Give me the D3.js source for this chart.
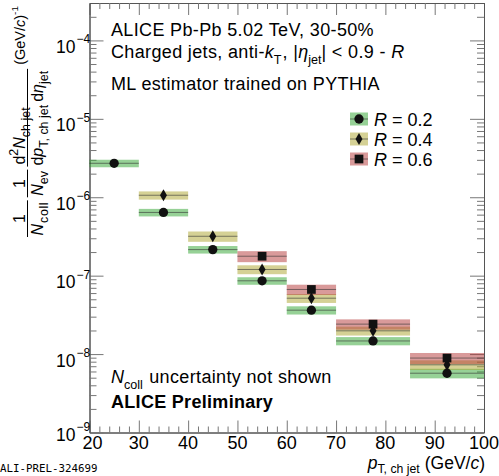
<!DOCTYPE html>
<html>
<head>
<meta charset="utf-8">
<script src="https://cdn.jsdelivr.net/npm/d3@7"></script>
<style>
body { margin: 0; background: #fff; }
svg { display: block; }
text { font-family: "Liberation Sans", Arial, sans-serif; white-space: pre; fill: #000; }
</style>
</head>
<body>
<svg id="chart" width="499" height="476"></svg>
<script>
// bins in pT (GeV/c)
var binLo = [20, 30, 40, 50, 60, 70, 85];
var binHi = [30, 40, 50, 60, 70, 85, 100];

// spectra per R, null = not measured
var valR02 = [2.71e-6, 6.4e-7, 2.15e-7, 8.6e-8, 3.63e-8, 1.47e-8, 5.7e-9];
var valR04 = [null, 1.06e-6, 3.18e-7, 1.2e-7, 5.16e-8, 1.98e-8, 7.3e-9];
var valR06 = [null, null, null, 1.77e-7, 6.67e-8, 2.41e-8, 8.9e-9];

// relative systematic (boxes) and statistical (bars) uncertainties
var sysR02 = [0.11, 0.11, 0.11, 0.11, 0.12, 0.12, 0.14];
var sysR04 = [null, 0.12, 0.15, 0.13, 0.13, 0.13, 0.14];
var sysR06 = [null, null, null, 0.16, 0.15, 0.15, 0.16];
var statR02 = [0.01, 0.01, 0.02, 0.02, 0.03, 0.04, 0.06];
var statR04 = [null, 0.02, 0.03, 0.04, 0.05, 0.06, 0.08];
var statR06 = [null, null, null, 0.05, 0.06, 0.08, 0.1];

var radii = ["0.2", "0.4", "0.6"];
var xTicks = [20, 30, 40, 50, 60, 70, 80, 90, 100];
var yDecades = [-9, -8, -7, -6, -5, -4];

var series = [
  {R: radii[0], val: valR02, sys: sysR02, stat: statR02, fill: "#2ea32e", sym: d3.symbolCircle, size: 68},
  {R: radii[1], val: valR04, sys: sysR04, stat: statR04, fill: "#aba32b", sym: d3.symbolDiamond, size: 42},
  {R: radii[2], val: valR06, sys: sysR06, stat: statR06, fill: "#b33535", sym: d3.symbolSquare, size: 76}
];

var margin = {top: 3, right: 15, bottom: 43.5, left: 89.5},
width = 499 - margin.left - margin.right,
height = 476 - margin.top - margin.bottom;

var svg = d3.select("#chart");
var g = svg.append("g")
.attr("transform", "translate(" + margin.left + "," + margin.top + ")");

var x = d3.scaleLinear().domain([20, 100]).range([0, width]);
var y = d3.scaleLog().domain([1e-9, 3e-4]).range([height, 0]);

var majorY = yDecades.map(function(e) { return Math.pow(10, e); });
var minorY = [];
yDecades.forEach(function(e) {
  for (var k = 2; k <= 9; k++) {
    var v = k * Math.pow(10, e);
    if (v < 3e-4) minorY.push(v);
  }
});
var minorX = d3.range(20, 101, 2).filter(function(v) { return v % 10 !== 0; });

function styleAxis(sel) {
  sel.selectAll(".domain").attr("stroke", "#555").attr("stroke-width", 1);
  sel.selectAll(".tick line").attr("stroke", "#777").attr("stroke-width", 1);
  sel.selectAll(".tick text").remove();
}

// frame + ticks, all pointing inward
g.append("g").attr("transform", "translate(0," + height + ")")
.call(d3.axisBottom(x).tickValues(xTicks).tickSize(-12).tickSizeOuter(0).tickFormat(""))
.call(styleAxis);
g.append("g").attr("transform", "translate(0," + height + ")")
.call(d3.axisBottom(x).tickValues(minorX).tickSize(-6).tickSizeOuter(0).tickFormat(""))
.call(styleAxis);
g.append("g")
.call(d3.axisTop(x).tickValues(xTicks).tickSize(-12).tickSizeOuter(0).tickFormat(""))
.call(styleAxis);
g.append("g")
.call(d3.axisTop(x).tickValues(minorX).tickSize(-6).tickSizeOuter(0).tickFormat(""))
.call(styleAxis);
g.append("g")
.call(d3.axisLeft(y).tickValues(majorY).tickSize(-14).tickSizeOuter(0).tickFormat(""))
.call(styleAxis);
g.append("g")
.call(d3.axisLeft(y).tickValues(minorY).tickSize(-7).tickSizeOuter(0).tickFormat(""))
.call(styleAxis);
g.append("g").attr("transform", "translate(" + width + ",0)")
.call(d3.axisRight(y).tickValues(majorY).tickSize(-14).tickSizeOuter(0).tickFormat(""))
.call(styleAxis);
g.append("g").attr("transform", "translate(" + width + ",0)")
.call(d3.axisRight(y).tickValues(minorY).tickSize(-7).tickSizeOuter(0).tickFormat(""))
.call(styleAxis);

// x tick labels
g.selectAll(".xlab").data(xTicks).enter().append("text")
.attr("class", "xlab")
.attr("x", function(d) { return x(d) + (d === 20 ? 3 : 0); })
.attr("y", height + 16.5)
.attr("text-anchor", "middle")
.attr("font-size", 18)
.text(function(d) { return d; });

// y tick labels 10^n
yDecades.forEach(function(e) {
  var yy = y(Math.pow(10, e));
  g.append("text").attr("x", -14).attr("y", yy + (e === -9 ? 8 : 12.5))
  .attr("text-anchor", "end").attr("font-size", 17.5).text("10");
  g.append("text").attr("x", -13).attr("y", yy + (e === -9 ? -2 : 3))
  .attr("font-size", 12).text("\u2212" + (-e));
});

// text runs with sub/superscripts
function putRuns(sel, x0, y0, parts, size, sub) {
  var xx = x0, k = sub || 0.7;
  parts.forEach(function(p) {
    var fs = p.fs || ((p.sub || p.sup) ? size * k : size);
    var dy = p.dy !== undefined ? p.dy : (p.sub ? size * 0.33 : (p.sup ? -size * 0.42 : 0));
    var t = sel.append("text").attr("x", xx).attr("y", y0 + dy)
    .attr("font-size", fs).text(p.t);
    if (p.i) t.attr("font-style", "italic");
    if (p.b) t.attr("font-weight", "bold");
    if (p.ls) t.attr("letter-spacing", p.ls);
    xx += t.node().getComputedTextLength() + (p.pad || 0);
  });
  return xx - x0;
}

function frac(sel, x0, lineY, num, den, size, alignStart) {
  var gn = sel.append("g"), gd = sel.append("g");
  var wn = putRuns(gn, 0, lineY - 3, num, size, 0.78);
  var wd = putRuns(gd, 0, lineY + size * 0.95, den, size, 0.78);
  var w = Math.max(wn, wd) + 3;
  gn.attr("transform", "translate(" + (x0 + (alignStart ? 2 : (w - wn) / 2)) + ",0)");
  gd.attr("transform", "translate(" + (x0 + (alignStart ? 1 : (w - wd) / 2)) + ",0)");
  sel.append("line").attr("x1", x0).attr("x2", x0 + w)
  .attr("y1", lineY).attr("y2", lineY).attr("stroke", "#000").attr("stroke-width", 1);
  return w;
}

// y-axis title, rotated
var yt = svg.append("g").attr("transform", "rotate(-90)");
var pos = -237, fs = 16;
pos += frac(yt, pos, 27.5, [{t: "1"}], [{t: "N", i: true, pad: 1}, {t: "coll", sub: true, ls: 0.6}], fs) + 3;
pos += frac(yt, pos, 27.5, [{t: "1"}], [{t: "N", i: true}, {t: "ev", sub: true}], fs) + 3;
pos += frac(yt, pos, 27.5,
  [{t: "d"}, {t: "2", sup: true}, {t: "N", i: true}, {t: "ch jet", sub: true}],
  [{t: "d"}, {t: "p", i: true}, {t: "T, ch jet", sub: true, pad: 3}, {t: "d"}, {t: "\u03b7", i: true}, {t: "jet", sub: true}], fs, true) + 4;
putRuns(yt, pos, 24.5, [{t: "(GeV/", fs: 14.5}, {t: "c", i: true, fs: 14.5}, {t: ")", fs: 14.5}, {t: "-1", sup: true}], fs, 0.62);

// x-axis title, right aligned to the frame
var xt = svg.append("g");
var xtw = putRuns(xt, 0, 468.5, [{t: "p", i: true}, {t: "T, ch jet", sub: true, dy: 4.5, pad: 5}, {t: "(GeV/"}, {t: "c", i: true}, {t: ")"}], 17.5);
xt.attr("transform", "translate(" + (margin.left + width - xtw + 1) + ",0)");

// uncertainty boxes
series.forEach(function(s) {
  var idx = d3.range(binLo.length).filter(function(i) { return s.val[i] !== null; });
  g.selectAll(null).data(idx).enter().append("rect")
  .attr("x", function(i) { return x(binLo[i]); })
  .attr("width", function(i) { return x(binHi[i]) - x(binLo[i]); })
  .attr("y", function(i) { return y(s.val[i] * (1 + s.sys[i])); })
  .attr("height", function(i) { return y(s.val[i] * (1 - s.sys[i])) - y(s.val[i] * (1 + s.sys[i])); })
  .attr("fill", s.fill).attr("fill-opacity", 0.5);
});

// bin-width lines and statistical bars
series.forEach(function(s) {
  var idx = d3.range(binLo.length).filter(function(i) { return s.val[i] !== null; });
  g.selectAll(null).data(idx).enter().append("line")
  .attr("x1", function(i) { return x(binLo[i]); })
  .attr("x2", function(i) { return x(binHi[i]); })
  .attr("y1", function(i) { return y(s.val[i]); })
  .attr("y2", function(i) { return y(s.val[i]); })
  .attr("stroke", "#333").attr("stroke-opacity", 0.6).attr("stroke-width", 1);
  g.selectAll(null).data(idx).enter().append("line")
  .attr("x1", function(i) { return x((binLo[i] + binHi[i]) / 2); })
  .attr("x2", function(i) { return x((binLo[i] + binHi[i]) / 2); })
  .attr("y1", function(i) { return y(s.val[i] * (1 + s.stat[i])); })
  .attr("y2", function(i) { return y(s.val[i] * (1 - s.stat[i])); })
  .attr("stroke", "#000").attr("stroke-width", 1.5);
});

// markers
series.forEach(function(s) {
  var idx = d3.range(binLo.length).filter(function(i) { return s.val[i] !== null; });
  g.selectAll(null).data(idx).enter().append("path")
  .attr("d", d3.symbol().type(s.sym).size(s.size))
  .attr("transform", function(i) {
    return "translate(" + x((binLo[i] + binHi[i]) / 2) + "," + y(s.val[i]) + ")";
  })
  .attr("fill", "#111");
});

// legend
var leg = svg.append("g").attr("transform", "translate(350,119)");
series.forEach(function(s, k) {
  var row = leg.append("g").attr("transform", "translate(0," + (k * 20) + ")");
  row.append("rect").attr("x", 0).attr("y", -6.5).attr("width", 18).attr("height", 13)
  .attr("fill", s.fill).attr("fill-opacity", 0.5);
  row.append("line").attr("x1", 0).attr("x2", 18).attr("y1", 0).attr("y2", 0)
  .attr("stroke", "#333").attr("stroke-opacity", 0.6);
  row.append("path").attr("d", d3.symbol().type(s.sym).size(s.size))
  .attr("transform", "translate(9,0)").attr("fill", "#111");
  putRuns(row, 24, 6.5, [{t: "R", i: true}, {t: " = " + s.R}], 18);
});

// annotations
var ls = 0.35;
putRuns(svg, 111, 36, [{t: "ALICE Pb-Pb 5.02 TeV, 30-50%", ls: ls}], 18);
putRuns(svg, 111, 58, [{t: "Charged jets, anti-", ls: ls}, {t: "k", i: true}, {t: "T", sub: true, pad: 1},
  {t: ", |", ls: ls}, {t: "\u03b7", i: true}, {t: "jet", sub: true}, {t: "| < 0.9 - ", ls: ls}, {t: "R", i: true}], 18);
putRuns(svg, 111, 90, [{t: "ML estimator trained on PYTHIA", ls: ls}], 18);
putRuns(svg, 111, 383, [{t: "N", i: true}, {t: "coll", sub: true, pad: 1}, {t: " uncertainty not shown", ls: ls}], 18);
putRuns(svg, 111, 408, [{t: "ALICE Preliminary", b: true, ls: 0.3}], 18);

svg.append("text").attr("x", 0).attr("y", 472)
.style("font-family", "'DejaVu Sans Mono', monospace")
.attr("font-size", 10.8).attr("fill", "#9a9a9a")
.text("ALI-PREL-324699");
</script>
</body>
</html>
